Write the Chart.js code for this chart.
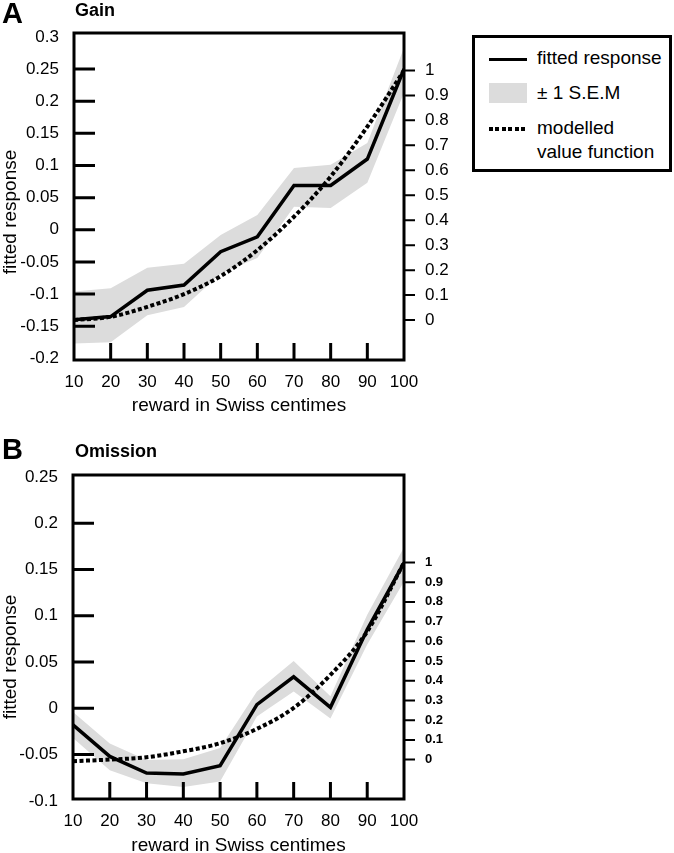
<!DOCTYPE html>
<html lang="en">
<head>
  <meta charset="UTF-8">
  <title>Gain / Omission fitted response</title>
  <script src="https://cdn.jsdelivr.net/npm/chart.js"></script>
  <style>
    body { margin: 0; background: #fff; font-family: "Liberation Sans", Arial, sans-serif; color: #000; }
    #wrap { position: relative; width: 674px; height: 853px; overflow: hidden; }
    canvas { position: absolute; left: 0; }
    .abs { position: absolute; white-space: nowrap; }
    .letter { font-size: 29px; font-weight: bold; }
    .ptitle { font-size: 18px; font-weight: bold; }
    .ytitle { font-size: 19px; transform: translate(-50%, -50%) rotate(-90deg); }
    #legend { position: absolute; left: 472px; top: 35px; width: 200px; height: 137px; border: 3px solid #000; box-sizing: border-box; }
    #legend .txt { position: absolute; left: 62px; font-size: 19px; line-height: 24px; }
  </style>
</head>
<body>
<div id="wrap">
  <canvas id="chartA" width="470" height="420" style="top:0"></canvas>
  <canvas id="chartB" width="470" height="430" style="top:430px"></canvas>

  <div class="abs letter" style="left:2px; top:-3px;">A</div>
  <div class="abs ptitle" style="left:75px; top:0px;">Gain</div>
  <div class="abs letter" style="left:2px; top:433px;">B</div>
  <div class="abs ptitle" style="left:75px; top:441px;">Omission</div>
  <div class="abs ytitle" style="left:10px; top:212px;">fitted response</div>
  <div class="abs ytitle" style="left:10px; top:657px;">fitted response</div>

  <div id="legend">
    <div class="abs" style="left:14px; top:20px; width:38px; height:3px; background:#000;"></div>
    <div class="txt" style="top:8px;">fitted response</div>
    <div class="abs" style="left:14px; top:45px; width:38px; height:20px; background:#dcdcdc;"></div>
    <div class="txt" style="top:43px;">± 1 S.E.M</div>
    <div class="abs" style="left:14px; top:89px; width:38px; height:4px; background:repeating-linear-gradient(90deg,#000 0 4px,transparent 4px 6.5px);"></div>
    <div class="txt" style="top:78px;">modelled<br>value function</div>
  </div>
</div>

<script>
  // x categories
  const rewards = [10, 20, 30, 40, 50, 60, 70, 80, 90, 100];

  // A: Gain
  const gainFit   = [-0.14, -0.135, -0.094, -0.086, -0.034, -0.011, 0.069, 0.069, 0.11, 0.25];
  const gainUpper = [-0.096, -0.091, -0.059, -0.053, -0.008, 0.023, 0.096, 0.101, 0.135, 0.283];
  const gainLower = [-0.177, -0.175, -0.133, -0.12, -0.068, -0.044, 0.036, 0.034, 0.073, 0.213];
  const gainModel = [0, 0.013, 0.053, 0.104, 0.176, 0.28, 0.414, 0.575, 0.775, 1];

  // B: Omission
  const omFit   = [-0.018, -0.052, -0.07, -0.071, -0.062, 0.004, 0.034, 0.001, 0.085, 0.157];
  const omUpper = [-0.004, -0.038, -0.056, -0.055, -0.043, 0.018, 0.051, 0.013, 0.101, 0.174];
  const omLower = [-0.032, -0.067, -0.081, -0.085, -0.079, -0.009, 0.018, -0.011, 0.069, 0.137];
  const omModel = [-0.008, 0, 0.012, 0.042, 0.083, 0.156, 0.262, 0.43, 0.65, 1];

  // tick labels
  const xTicks = [10, 20, 30, 40, 50, 60, 70, 80, 90, 100];
  const gainLeftTicks = [-0.2, -0.15, -0.1, -0.05, 0, 0.05, 0.1, 0.15, 0.2, 0.25, 0.3];
  const omLeftTicks = [-0.1, -0.05, 0, 0.05, 0.1, 0.15, 0.2, 0.25];
  const valueTicks = [0, 0.1, 0.2, 0.3, 0.4, 0.5, 0.6, 0.7, 0.8, 0.9, 1];

  Chart.defaults.font.family = '"Liberation Sans", Arial, sans-serif';
  Chart.defaults.color = '#000';

  const fmt = v => String(+Number(v).toFixed(2));
  const pts = ys => rewards.map((x, i) => ({ x: x, y: ys[i] }));

  // box, inward ticks on left/bottom, outward ticks on the right axis
  const frame = {
    id: 'frame',
    afterDatasetsDraw(chart, args, opts) {
      const { ctx, chartArea: a, scales: { x, y, y1 } } = chart;
      ctx.save();
      ctx.strokeStyle = '#000';
      ctx.lineWidth = 3;
      ctx.strokeRect(a.left, a.top, a.right - a.left, a.bottom - a.top);
      ctx.beginPath();
      opts.leftMarks.forEach(v => {
        const p = y.getPixelForValue(v);
        ctx.moveTo(a.left, p); ctx.lineTo(a.left + 21, p);
      });
      xTicks.slice(1, -1).forEach(v => {
        const p = x.getPixelForValue(v);
        ctx.moveTo(p, a.bottom); ctx.lineTo(p, a.bottom - 17);
      });
      ctx.stroke();
      ctx.lineWidth = 2;
      ctx.beginPath();
      valueTicks.forEach(v => {
        const p = y1.getPixelForValue(v);
        ctx.moveTo(a.right, p); ctx.lineTo(a.right + 11, p);
      });
      ctx.stroke();
      ctx.restore();
    }
  };

  function makeChart(id, p) {
    return new Chart(document.getElementById(id), {
      type: 'line',
      data: {
        datasets: [
          { data: pts(p.fit), borderColor: '#000', borderWidth: 3.5, pointRadius: 0, tension: 0, borderJoinStyle: 'miter', yAxisID: 'y' },
          { data: pts(p.model), borderColor: '#000', borderWidth: 4, borderDash: [4, 2.5], pointRadius: 0, cubicInterpolationMode: 'monotone', yAxisID: 'y1' },
          { data: pts(p.upper), borderWidth: 0, pointRadius: 0, backgroundColor: '#dcdcdc', fill: '+1', yAxisID: 'y' },
          { data: pts(p.lower), borderWidth: 0, pointRadius: 0, fill: false, yAxisID: 'y' }
        ]
      },
      options: {
        responsive: false,
        animation: false,
        layout: { padding: { top: p.top, left: 0, right: 0, bottom: 0 } },
        plugins: {
          legend: { display: false },
          tooltip: { enabled: false },
          frame: { leftMarks: p.leftTicks.slice(1, -1) }
        },
        scales: {
          x: {
            type: 'linear', min: 10, max: 100,
            afterBuildTicks: s => { s.ticks = xTicks.map(v => ({ value: v })); },
            grid: { display: false }, border: { display: false },
            ticks: { autoSkip: false, maxRotation: 0, padding: 4, font: { size: 17 } },
            title: { display: true, text: 'reward in Swiss centimes', font: { size: 19 }, padding: { top: 0, bottom: p.titlePad } },
            afterFit: s => { s.height = p.xHeight; }
          },
          y: {
            position: 'left', min: p.yMin, max: p.yMax,
            afterBuildTicks: s => { s.ticks = p.leftTicks.map(v => ({ value: v })); },
            grid: { display: false }, border: { display: false },
            ticks: { autoSkip: false, padding: 7, font: { size: 17 }, callback: fmt },
            afterFit: s => { s.width = p.yWidth; }
          },
          y1: {
            position: 'right', min: p.vMin, max: p.vMax,
            afterBuildTicks: s => { s.ticks = valueTicks.map(v => ({ value: v })); },
            grid: { display: false }, border: { display: false },
            ticks: { autoSkip: false, padding: 13, font: p.rightFont, callback: fmt },
            afterFit: s => { s.width = 66; }
          }
        }
      },
      plugins: [frame]
    });
  }

  makeChart('chartA', {
    fit: gainFit, upper: gainUpper, lower: gainLower, model: gainModel,
    leftTicks: gainLeftTicks, yMin: -0.2025, yMax: 0.306, vMin: -0.16, vMax: 1.15,
    top: 33, xHeight: 60, yWidth: 74, titlePad: 3, rightFont: { size: 17 }
  });

  makeChart('chartB', {
    fit: omFit, upper: omUpper, lower: omLower, model: omModel,
    leftTicks: omLeftTicks, yMin: -0.098, yMax: 0.252, vMin: -0.2, vMax: 1.444,
    top: 45, xHeight: 61, yWidth: 73, titlePad: 3, rightFont: { size: 13, weight: 'bold' }
  });
</script>
</body>
</html>
